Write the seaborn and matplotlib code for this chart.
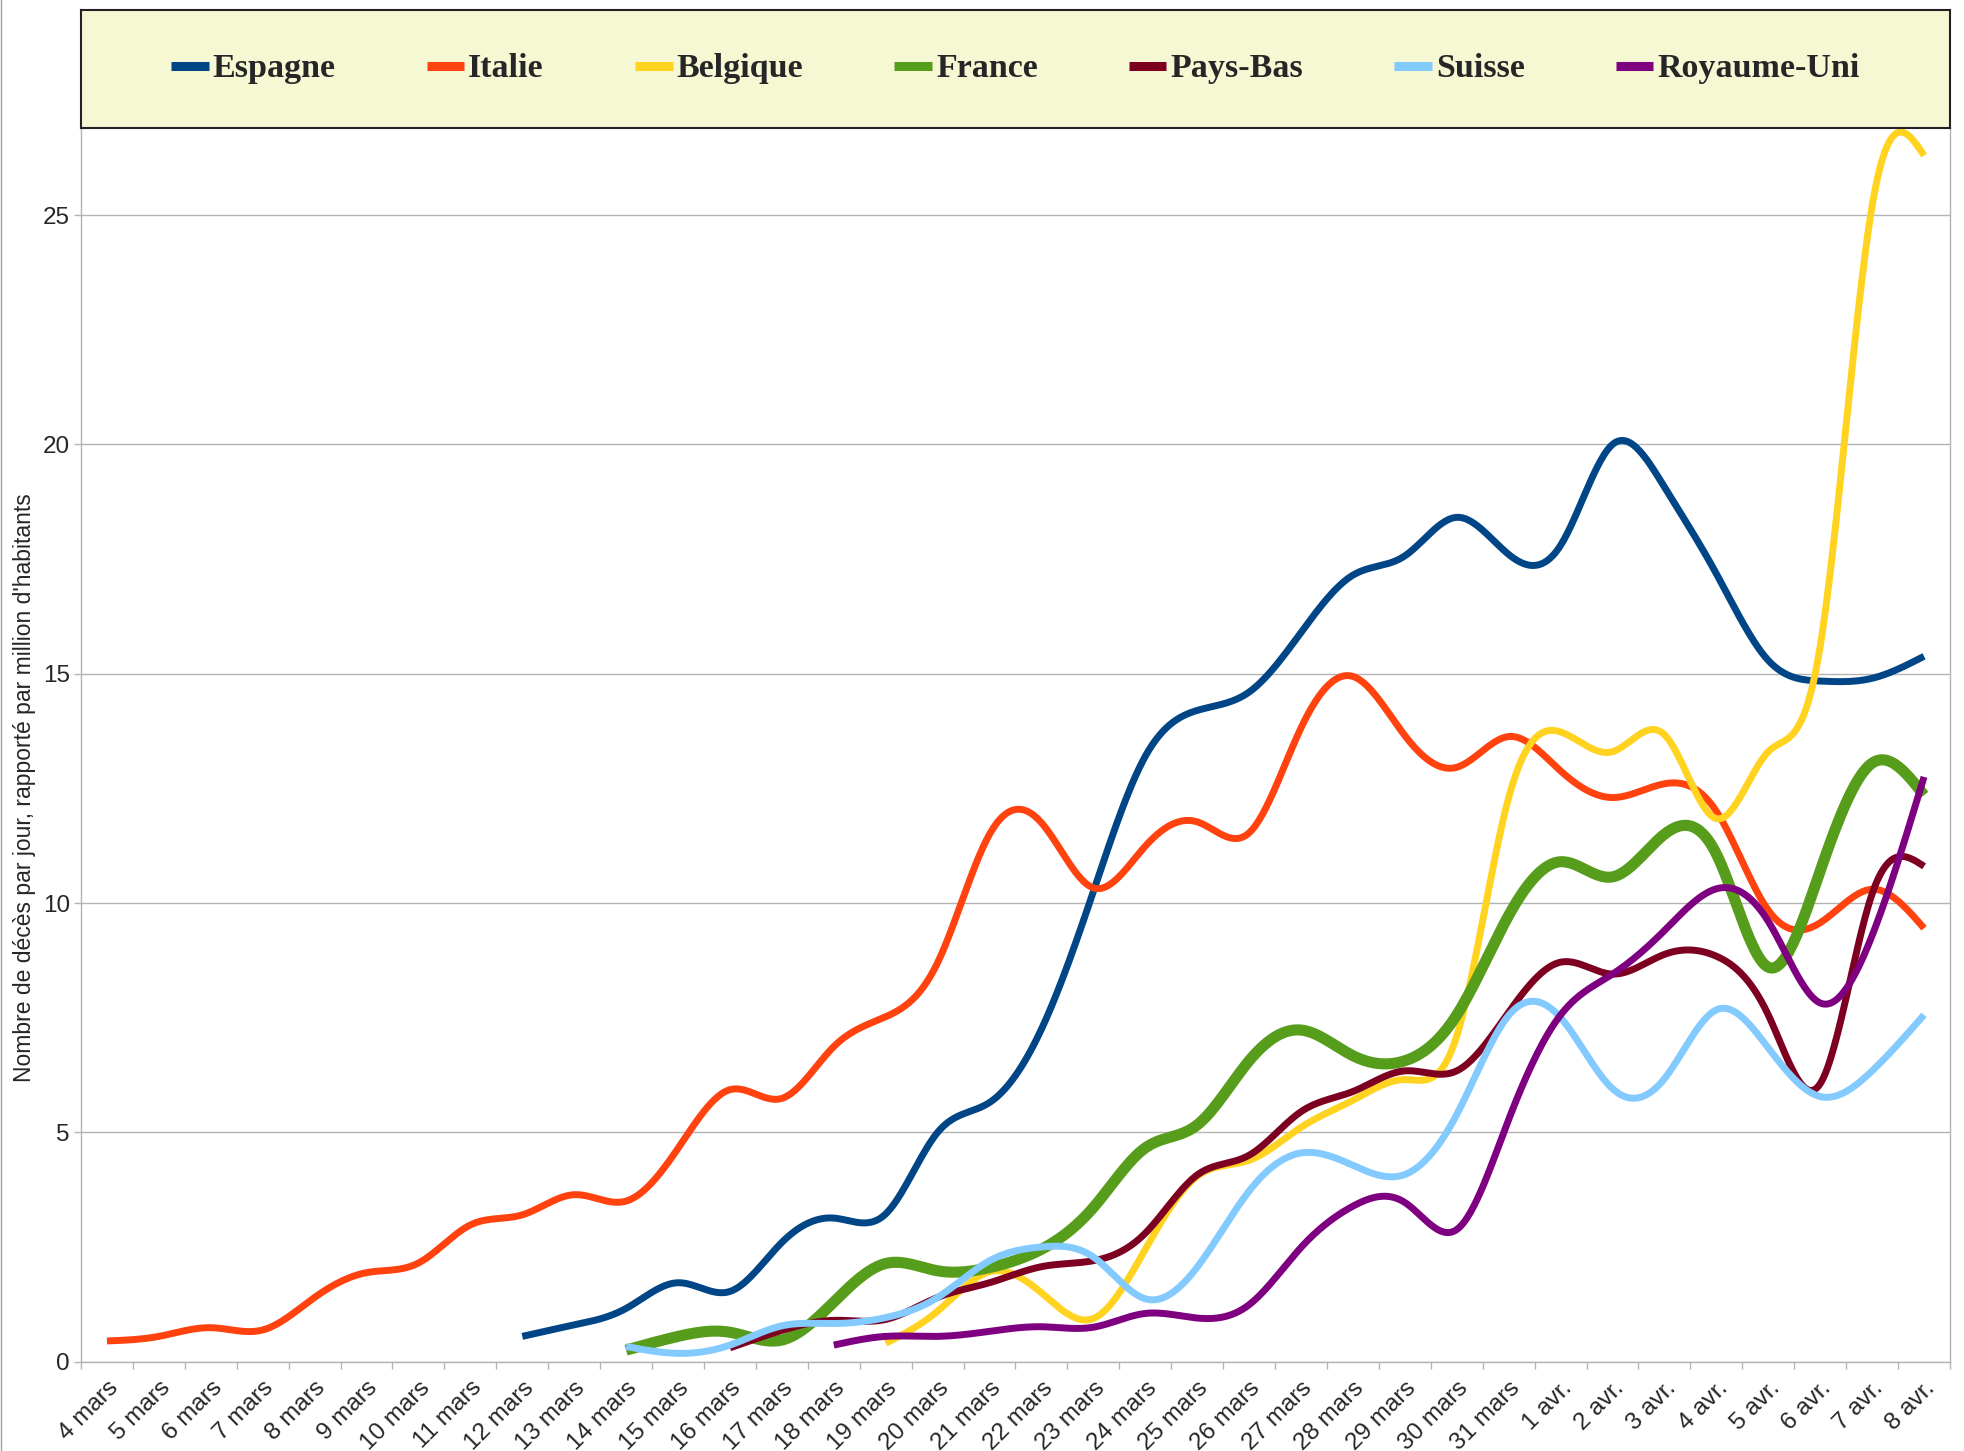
import numpy as np
import pandas as pd
import matplotlib
matplotlib.use('Agg')
import matplotlib.pyplot as plt
import seaborn as sns
from matplotlib.lines import Line2D
from matplotlib.font_manager import FontProperties

# Données : décès par jour, par million d'habitants
jours = ['4 mars', '5 mars', '6 mars', '7 mars', '8 mars', '9 mars', '10 mars',
         '11 mars', '12 mars', '13 mars', '14 mars', '15 mars', '16 mars', '17 mars',
         '18 mars', '19 mars', '20 mars', '21 mars', '22 mars', '23 mars', '24 mars',
         '25 mars', '26 mars', '27 mars', '28 mars', '29 mars', '30 mars', '31 mars',
         '1 avr.', '2 avr.', '3 avr.', '4 avr.', '5 avr.', '6 avr.', '7 avr.', '8 avr.']

espagne = [None] * 8 + [0.55, 0.8, 1.16, 1.72, 1.53, 2.6, 3.13, 3.22, 5.0, 5.65, 7.25,
                        10.25, 13.2, 14.2, 14.6, 15.9, 17.15, 17.57, 18.41, 17.6, 17.8,
                        20.0, 19.07, 17.18, 15.29, 14.84, 14.9, 15.38]
italie = [0.45, 0.55, 0.74, 0.69, 1.4, 1.94, 2.15, 2.98, 3.2, 3.64, 3.5, 4.65, 5.93, 5.74,
          6.87, 7.52, 8.7, 11.5, 11.75, 10.33, 11.24, 11.77, 11.53, 13.82, 14.94, 13.65,
          12.96, 13.63, 12.88, 12.3, 12.6, 12.0, 9.84, 9.57, 10.3, 9.45]
belgique = [None] * 15 + [0.4, 1.1, 1.96, 1.5, 0.94, 2.45, 4.04, 4.39, 5.11, 5.7, 6.15,
                          7.1, 12.3, 13.73, 13.3, 13.67, 11.84, 13.3, 15.6, 25.2, 26.3]
france = [None] * 10 + [0.25, 0.55, 0.64, 0.47, 1.3, 2.14, 1.98, 2.05, 2.45, 3.36, 4.66,
                        5.16, 6.56, 7.23, 6.67, 6.56, 7.56, 9.73, 10.9, 10.57, 11.5, 11.07,
                        8.6, 10.7, 13.05, 12.35]
pays_bas = [None] * 12 + [0.3, 0.68, 0.9, 0.92, 1.4, 1.72, 2.07, 2.2, 2.8, 4.07, 4.5, 5.45,
                          5.89, 6.34, 6.34, 7.62, 8.71, 8.45, 8.88, 8.84, 7.56, 6.06, 10.2,
                          10.8]
suisse = [None] * 10 + [0.33, 0.18, 0.36, 0.78, 0.83, 0.96, 1.4, 2.2, 2.5, 2.28, 1.37, 2.06,
                        3.72, 4.55, 4.28, 4.08, 5.39, 7.55, 7.5, 5.95, 6.17, 7.67, 6.84,
                        5.78, 6.34, 7.56]
royaume_uni = [None] * 14 + [0.36, 0.55, 0.55, 0.66, 0.76, 0.75, 1.05, 0.95, 1.24, 2.49,
                             3.39, 3.47, 2.88, 5.28, 7.56, 8.45, 9.4, 10.31, 9.6, 7.82,
                             9.29, 12.75]

pays = ['Espagne', 'Italie', 'Belgique', 'France', 'Pays-Bas', 'Suisse', 'Royaume-Uni']
series = [espagne, italie, belgique, france, pays_bas, suisse, royaume_uni]
couleurs = ['#004586', '#ff420e', '#ffd320', '#579d1c', '#7e0021', '#83caff', '#7e0080']
epaisseurs = [5, 5, 5, 8, 5, 5, 5]


def spline(xs, ys, pas=30):
    # spline cubique naturelle, comme le lissage du tableur
    xs = np.asarray(xs, float)
    ys = np.asarray(ys, float)
    n = len(xs)
    h = np.diff(xs)
    A = np.zeros((n, n))
    b = np.zeros(n)
    A[0, 0] = A[-1, -1] = 1
    for i in range(1, n - 1):
        A[i, i - 1] = h[i - 1]
        A[i, i] = 2 * (h[i - 1] + h[i])
        A[i, i + 1] = h[i]
        b[i] = 6 * ((ys[i + 1] - ys[i]) / h[i] - (ys[i] - ys[i - 1]) / h[i - 1])
    M = np.linalg.solve(A, b)
    xx, yy = [], []
    for i in range(n - 1):
        t = np.linspace(0, 1, pas, endpoint=(i == n - 2))
        a = 1 - t
        xx.append(xs[i] + t * h[i])
        yy.append(a * ys[i] + t * ys[i + 1]
                  + h[i] ** 2 / 6 * ((a ** 3 - a) * M[i] + (t ** 3 - t) * M[i + 1]))
    return np.concatenate(xx), np.concatenate(yy)


sns.set_style('white')
plt.rcParams['font.family'] = ['Liberation Sans', 'DejaVu Sans']

fig = plt.figure(figsize=(19.64, 14.51), dpi=100)
ax = fig.add_axes([0.04124, 0.06161, 0.95163, 0.85018])

x_idx = np.arange(len(jours))
for nom, vals, c, lw in zip(pays, series, couleurs, epaisseurs):
    s = pd.Series(vals, index=x_idx, dtype=float).dropna()
    xx, yy = spline(s.index.values, s.values)
    sns.lineplot(x=xx, y=yy, ax=ax, color=c, lw=lw, sort=False, estimator=None,
                 solid_capstyle='butt')

grisaxe = '#b3b3b3'
ax.set_xlim(-0.5, len(jours) - 0.5)
ax.set_ylim(0, 26.9)
ax.set_yticks([0, 5, 10, 15, 20, 25])
ax.yaxis.grid(True, color=grisaxe, lw=1)
ax.xaxis.grid(False)
ax.set_xticks(x_idx)
ax.set_xticklabels(jours, rotation=45, ha='right', va='top', rotation_mode='anchor')
ax.set_xticks(np.arange(-0.5, len(jours), 1), minor=True)
ax.tick_params(axis='x', which='major', length=0, pad=11, labelsize=17.5)
ax.tick_params(axis='x', which='minor', length=5, width=1, color=grisaxe, direction='out',
               bottom=True)
ax.tick_params(axis='y', length=5, width=1, color=grisaxe, direction='out', pad=3,
               labelsize=17.5, left=True)
for cote in ['left', 'bottom', 'right']:
    ax.spines[cote].set_color(grisaxe)
    ax.spines[cote].set_linewidth(1)
ax.spines['top'].set_visible(False)
ax.set_xlabel('')
ax.set_ylabel("Nombre de décès par jour, rapporté par million d'habitants", fontsize=16.5)
ax.yaxis.set_label_coords(-0.024, 0.465)

# Légende dans un cadre jaune pâle au-dessus du graphique
lax = fig.add_axes([0.04124, 0.91179, 0.95163, 0.08132])
lax.set_facecolor('#f6f8d4')
lax.set_xticks([])
lax.set_yticks([])
for sp in lax.spines.values():
    sp.set_color('#222222')
    sp.set_linewidth(1.5)
poignees = [Line2D([0], [0], color=c, lw=6.5, solid_capstyle='butt') for c in couleurs]
lax.legend(poignees, pays, loc='center', ncol=7, frameon=False,
           prop=FontProperties(family='Liberation Serif', weight='bold', size=24.5),
           handlelength=1.1, handletextpad=0.12, columnspacing=2.68)

fig.add_artist(Line2D([0.0004, 0.0004], [0, 1], color='#a0a0a0', lw=1,
                      transform=fig.transFigure))

fig.savefig('out.png', dpi=100)
